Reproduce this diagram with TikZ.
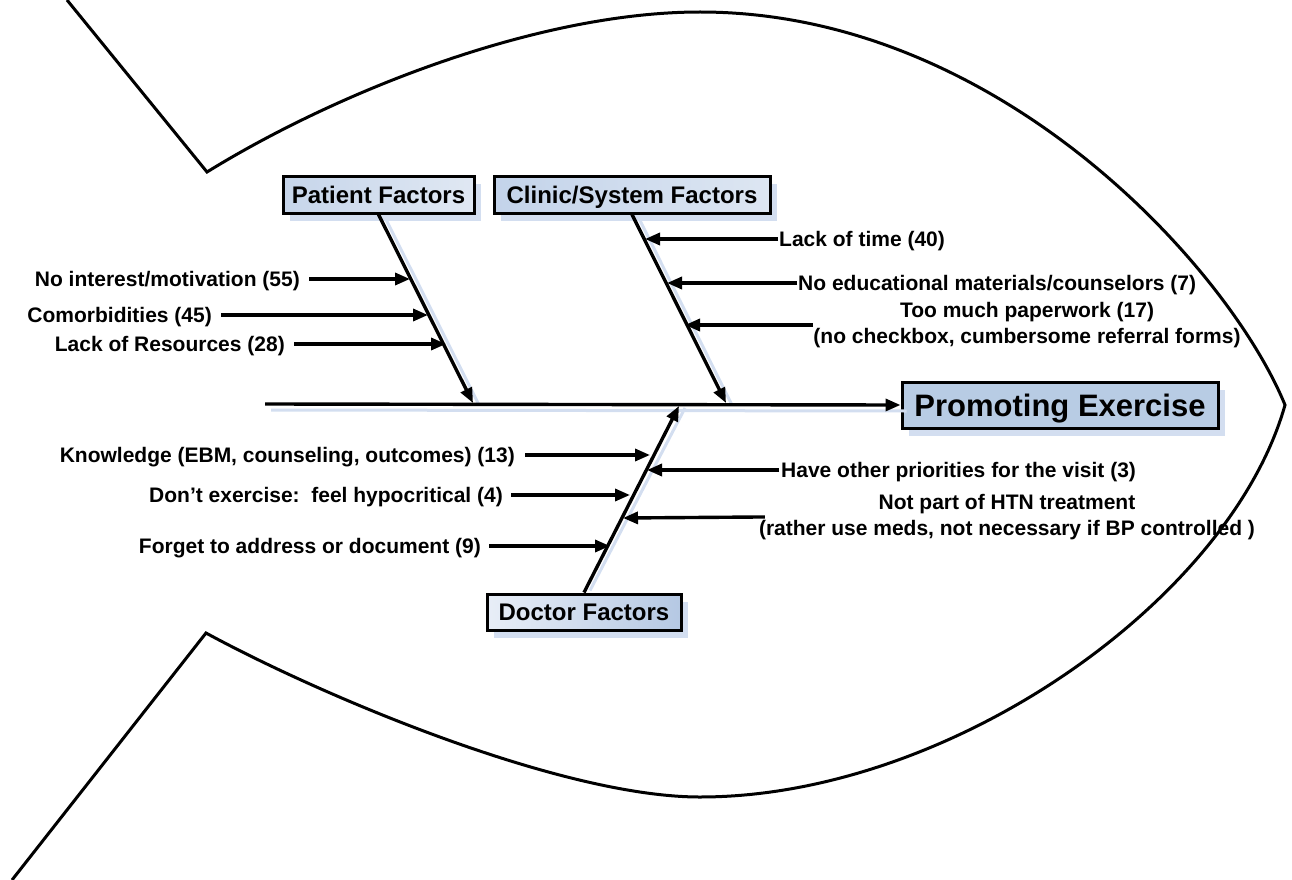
\documentclass[tikz,border=0pt]{standalone}
\usepackage{fontspec}
\setmainfont{Liberation Sans}
\usetikzlibrary{arrows.meta,shadows}
\definecolor{shadowc}{HTML}{D3DEF0}
\definecolor{peblue}{HTML}{B8CCE4}
\definecolor{pfL}{HTML}{C6D5EA}
\definecolor{pfR}{HTML}{E0E8F3}
\definecolor{cfL}{HTML}{C3D3EA}
\definecolor{cfR}{HTML}{DDE6F2}
\definecolor{dfL}{HTML}{E8EEF7}
\definecolor{dfR}{HTML}{B5C8E3}
\begin{document}
\begin{tikzpicture}[x=1pt,y=-1pt,
  fish/.style={line width=3pt, line join=miter},
  arr/.style={line width=3.4pt, -{Triangle[length=15pt,width=12pt]}},
  shline/.style={line width=3pt, shadowc},
  box/.style={draw, line width=3pt, inner sep=0pt, font=\fontsize{24}{28}\selectfont\bfseries,
    text height=22.2pt, text depth=5pt,
    drop shadow={shadow xshift=7pt, shadow yshift=-8pt, fill=shadowc, opacity=1}},
  lbl/.style={inner sep=0pt, font=\fontsize{21}{26}\selectfont\bfseries, text height=15pt, text depth=0pt},
  lbl2/.style={inner sep=0pt, font=\fontsize{21}{26}\selectfont\bfseries, align=center}
]
\useasboundingbox (0,0) rectangle (1292,880);

% fish outline
\draw[fish] (67,0) -- (207,172)
  .. controls (340,90) and (540,12) .. (700,12)
  .. controls (1000,12) and (1230,270) .. (1285,405)
  .. controls (1230,600) and (950,797) .. (700,797)
  .. controls (560,797) and (320,695) .. (206,633) -- (12,880);

% boxes
\node[box, minimum width=191, minimum height=37, left color=pfL, right color=pfR] (pf) at (378.5,194.5) {Patient Factors};
\node[box, minimum width=276, minimum height=37, left color=cfL, right color=cfR] (cf) at (632,194.5) {Clinic/System Factors};
\node[box, minimum width=194, minimum height=36, left color=dfL, right color=dfR] (df) at (584,612) {Doctor Factors};
\node[box, minimum width=316, minimum height=46, fill=peblue, font=\fontsize{31}{34}\selectfont\bfseries,
  text height=27.2pt, text depth=5pt] (pe) at (1060,405) {Promoting Exercise};

% spine and branch end points
\coordinate (s0) at (265,404);
\coordinate (pt) at (473,403);
\coordinate (ct) at (726,403);
\coordinate (dt) at (679,406);

% shadows of the spine and branches
\draw[shline] ([shift={(6,6)}]s0) -- ([shift={(6,6)}]pe.west);
\draw[shline] ([shift={(6,2)}]pf.south) -- ([shift={(6,2)}]pt);
\draw[shline] ([shift={(6,2)}]cf.south) -- ([shift={(6,2)}]ct);
\draw[shline] ([shift={(6,-2)}]df.north) -- ([shift={(6,2)}]dt);

% spine and branches
\draw[arr] (s0) -- (pe.west);
\draw[arr] (pf.south) -- (pt);
\draw[arr] (cf.south) -- (ct);
\draw[arr] (df.north) -- (dt);

% patient factors
\node[lbl, anchor=east] (p1) at (300,279) {No interest/motivation (55)};
\node[lbl, anchor=east] (p2) at (212,315) {Comorbidities (45)};
\node[lbl, anchor=east] (p3) at (285,344) {Lack of Resources (28)};
\coordinate (p1t) at (410,279);
\coordinate (p2t) at (428,315);
\coordinate (p3t) at (446,344);
\draw[arr, shorten <=9pt] (p1.east) -- (p1t);
\draw[arr, shorten <=9pt] (p2.east) -- (p2t);
\draw[arr, shorten <=9pt] (p3.east) -- (p3t);

% clinic/system factors
\node[lbl, anchor=west] (c1) at (779,239) {Lack of time (40)};
\node[lbl, anchor=west] (c2) at (798,283) {No educational materials/counselors (7)};
\node[lbl2] (c3) at (1027,325) {Too much paperwork (17)\\(no checkbox, cumbersome referral forms)};
\coordinate (c1t) at (645,239);
\coordinate (c2t) at (667,283);
\coordinate (c3t) at (685,325);
\draw[arr, shorten <=1pt] (c1.west) -- (c1t);
\draw[arr, shorten <=1pt] (c2.west) -- (c2t);
\draw[arr] (c3.west) -- (c3t);

% doctor factors
\node[lbl, anchor=east] (d1) at (515,455) {Knowledge (EBM, counseling, outcomes) (13)};
\node[lbl, anchor=east] (d2) at (503,495) {Don’t exercise:\ \ feel hypocritical (4)};
\node[lbl, anchor=east] (d3) at (481,546) {Forget to address or document (9)};
\node[lbl, anchor=west] (d4) at (781,470) {Have other priorities for the visit (3)};
\node[lbl2] (d5) at (1007,517) {Not part of HTN treatment\\(rather use meds, not necessary if BP controlled )};
\coordinate (d1t) at (650,455);
\coordinate (d2t) at (630,495);
\coordinate (d3t) at (610,546);
\coordinate (d4t) at (647,470);
\coordinate (d5t) at (623,518);
\draw[arr, shorten <=10pt] (d1.east) -- (d1t);
\draw[arr, shorten <=8pt] (d2.east) -- (d2t);
\draw[arr, shorten <=8pt] (d3.east) -- (d3t);
\draw[arr, shorten <=2pt] (d4.west) -- (d4t);
\draw[arr, shorten <=-6pt] (d5.west) -- (d5t);
\end{tikzpicture}
\end{document}
